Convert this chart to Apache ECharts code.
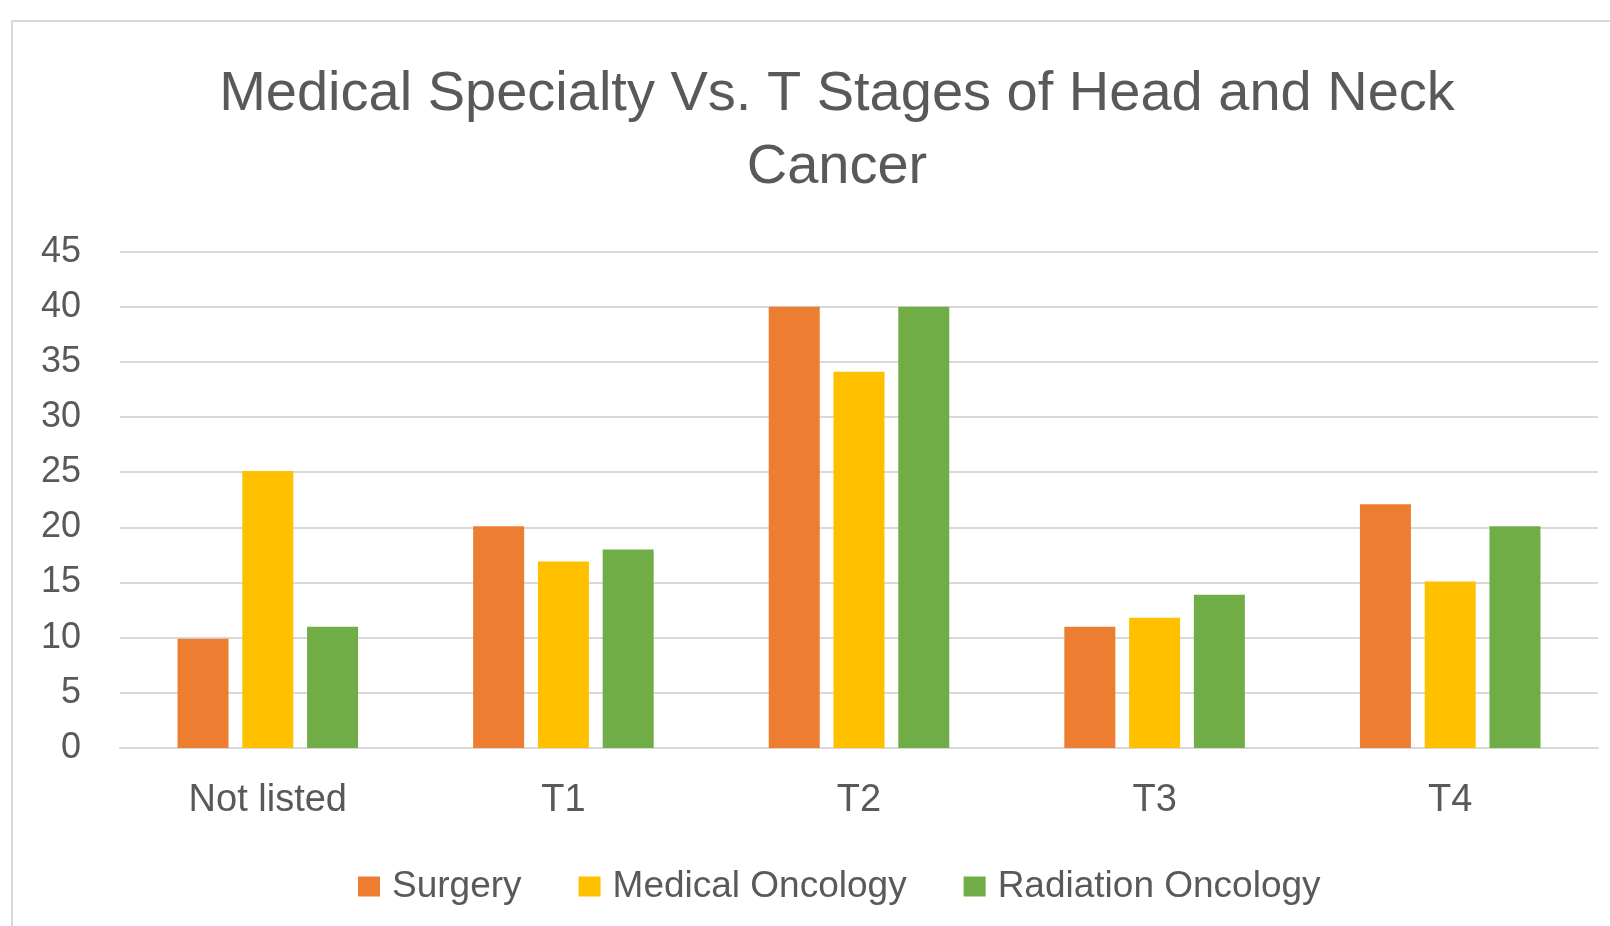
<!DOCTYPE html>
<html>
<head>
<meta charset="utf-8">
<title>Medical Specialty Vs. T Stages</title>
<script src="https://cdn.jsdelivr.net/npm/echarts@6/dist/echarts.min.js"></script>
<style>
  html, body { margin: 0; padding: 0; background: #ffffff; }
  #chart { width: 1610px; height: 926px; }
</style>
</head>
<body>
<div id="chart"></div>
<script>
// categories and values
var stages = ['Not listed', 'T1', 'T2', 'T3', 'T4'];
var surgery = [9.9, 20.1, 40, 11, 22.1];
var medicalOncology = [25.1, 16.9, 34.1, 11.8, 15.1];
var radiationOncology = [11, 18, 40, 13.9, 20.1];
var yTicks = { min: 0, max: 45, step: 5 };

var textGray = '#595959';
var lineGray = '#d9d9d9';
var font = '"Liberation Sans", Arial, sans-serif';

var myChart = echarts.init(document.getElementById('chart'));

var option = {
  backgroundColor: '#ffffff',
  color: ['#ED7D31', '#FFC000', '#70AD47'],
  // frame round the chart area
  graphic: [{
    type: 'rect',
    silent: true,
    shape: { x: 12, y: 21, width: 1700, height: 1000 },
    style: { fill: 'none', stroke: lineGray, lineWidth: 2 }
  }],
  title: {
    text: 'Medical Specialty Vs. T Stages of Head and Neck\nCancer',
    left: 837,
    top: 58,
    padding: 0,
    textAlign: 'center',
    textStyle: {
      fontFamily: font,
      fontSize: 56,
      fontWeight: 'normal',
      color: textGray,
      lineHeight: 73
    }
  },
  legend: {
    left: 353,
    top: 863,
    icon: 'rect',
    itemWidth: 22,
    itemHeight: 20,
    itemGap: 57,
    textStyle: {
      fontFamily: font,
      fontSize: 37,
      color: textGray,
      padding: [0, 0, 0, 7]
    },
    data: ['Surgery', 'Medical Oncology', 'Radiation Oncology']
  },
  grid: {
    left: 120,
    right: 12,
    top: 251.6,
    bottom: 178,
    containLabel: false
  },
  xAxis: {
    type: 'category',
    data: stages,
    axisTick: { show: false },
    axisLine: { lineStyle: { color: lineGray, width: 2 } },
    axisLabel: {
      margin: 34,
      fontFamily: font,
      fontSize: 38,
      lineHeight: 38,
      color: textGray
    }
  },
  yAxis: {
    type: 'value',
    min: yTicks.min,
    max: yTicks.max,
    interval: yTicks.step,
    axisLine: { show: false },
    axisTick: { show: false },
    splitLine: { lineStyle: { color: lineGray, width: 2 } },
    axisLabel: {
      margin: 39,
      fontFamily: font,
      fontSize: 36,
      color: textGray
    }
  },
  series: [
    { name: 'Surgery', type: 'bar', data: surgery, barWidth: 51, barGap: '27%' },
    { name: 'Medical Oncology', type: 'bar', data: medicalOncology, barWidth: 51, barGap: '27%' },
    { name: 'Radiation Oncology', type: 'bar', data: radiationOncology, barWidth: 51, barGap: '27%' }
  ]
};

myChart.setOption(option);
window.addEventListener('resize', function () {
  myChart.resize();
});
</script>
</body>
</html>
